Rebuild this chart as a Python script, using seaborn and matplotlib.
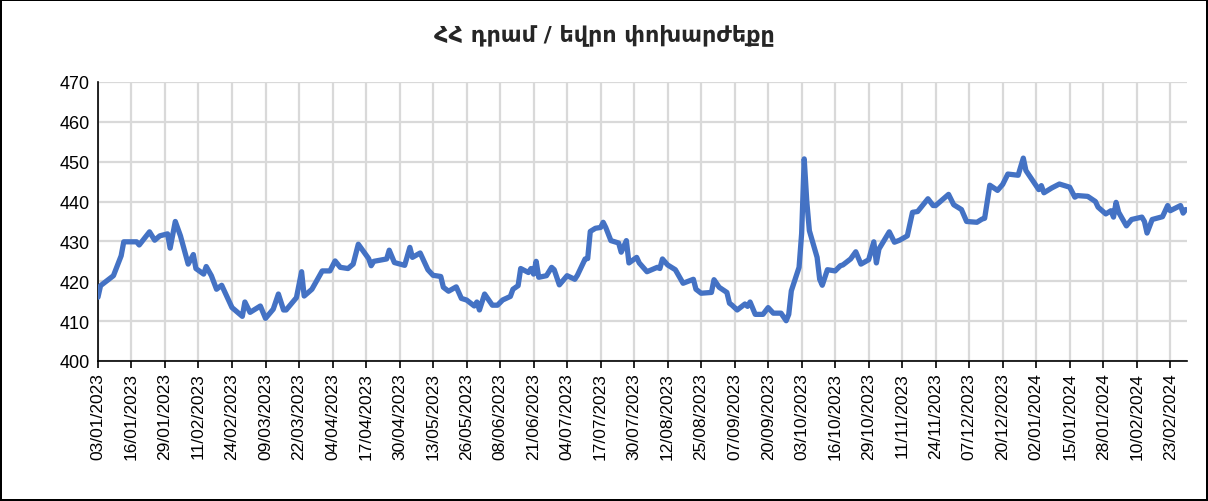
import pandas as pd
import numpy as np
import seaborn as sns
import matplotlib.pyplot as plt
import matplotlib.dates as mdates

#days counted from 03/01/2023
day = [0, 1, 6, 8, 9, 10, 15, 16, 20, 22, 24, 27, 28, 30, 32, 35, 37, 38, 41, 42,
       44, 46, 48, 52, 56, 57, 59, 63, 65, 68, 70, 72, 73, 77, 79, 80, 83, 87, 90, 92,
       94, 97, 99, 101, 105, 106, 107, 112, 113, 115, 119, 121, 122, 125, 128, 130, 133, 134, 136, 139,
       141, 143, 146, 147, 148, 150, 153, 155, 157, 160, 161, 163, 164, 167, 168, 169, 170, 171, 174, 176,
       177, 179, 182, 185, 186, 189, 190, 191, 193, 195, 196, 197, 199, 202, 203, 205, 206, 209, 210, 213,
       217, 218, 219, 221, 224, 227, 231, 232, 234, 238, 239, 241, 244, 245, 246, 248, 251, 252, 253, 255,
       258, 260, 262, 265, 267, 268, 269, 272, 273, 274, 275, 276, 279, 280, 281, 283, 286, 288, 289, 292,
       294, 296, 299, 301, 302, 303, 307, 309, 311, 314, 316, 318, 322, 324, 325, 328, 330, 332, 335, 337,
       341, 343, 344, 346, 349, 351, 353, 357, 359, 360, 365, 366, 367, 370, 373, 377, 379, 380, 384, 387,
       388, 391, 393, 394, 395, 396, 399, 401, 405, 406, 407, 409, 413, 415, 416, 420, 421, 422]
rate = [416.0, 418.9, 421.4, 424.7, 426.4, 429.9, 429.9, 429.1, 432.4, 430.3, 431.4, 431.9, 428.3, 435.0, 431.4, 424.3, 426.7, 423.2, 421.8, 423.7,
        421.4, 418.0, 419.0, 413.4, 411.2, 414.8, 412.2, 413.8, 410.7, 413.0, 416.8, 412.8, 412.8, 415.9, 422.4, 416.3, 418.0, 422.6, 422.6, 425.1,
        423.5, 423.2, 424.3, 429.3, 425.7, 423.9, 425.0, 425.6, 427.8, 424.7, 424.0, 428.5, 426.0, 427.1, 422.9, 421.5, 421.2, 418.5, 417.5, 418.6,
        415.7, 415.3, 413.8, 414.8, 412.8, 416.8, 414.0, 414.0, 415.3, 416.2, 418.0, 418.9, 423.2, 422.2, 423.2, 421.8, 425.0, 421.0, 421.4, 423.5,
        422.9, 419.1, 421.4, 420.5, 421.5, 425.6, 425.7, 432.5, 433.3, 433.5, 434.8, 433.5, 430.2, 429.6, 427.3, 430.2, 424.6, 426.0, 424.6, 422.4,
        423.5, 423.2, 425.6, 424.1, 422.9, 419.5, 420.5, 418.0, 417.0, 417.2, 420.4, 418.5, 417.2, 414.5, 414.0, 412.8, 414.3, 413.7, 414.8, 411.7,
        411.7, 413.4, 412.0, 412.0, 410.1, 411.7, 417.6, 423.5, 432.0, 450.7, 440.0, 432.7, 426.0, 420.5, 419.0, 422.9, 422.6, 423.9, 424.1, 425.6,
        427.4, 424.3, 425.4, 429.9, 424.6, 428.1, 432.4, 429.8, 430.3, 431.4, 437.3, 437.5, 440.7, 439.0, 439.0, 440.7, 441.8, 439.2, 438.0, 435.0,
        434.8, 435.6, 435.8, 444.1, 442.8, 444.3, 446.9, 446.6, 450.9, 447.8, 443.0, 444.0, 442.2, 443.4, 444.4, 443.6, 441.1, 441.5, 441.3, 440.0,
        438.6, 436.9, 437.7, 436.1, 439.8, 437.3, 433.9, 435.5, 436.1, 435.0, 432.1, 435.5, 436.2, 439.0, 437.7, 439.0, 437.1, 438.0]

title = 'ՀՀ դրամ / եվրո փոխարժեքը'
start = pd.Timestamp('2023-01-03')

df = pd.DataFrame({'date': start + pd.to_timedelta(day, unit='D'), 'rate': rate})

sns.set_theme(style='white')
plt.rcParams['font.family'] = ['Liberation Sans', 'DejaVu Sans']

fig = plt.figure(figsize=(12.08, 5.02), dpi=100, linewidth=1.5, edgecolor='black')
ax = fig.add_axes([0.0811, 0.2789, 0.9015, 0.5558])

sns.lineplot(data=df, x='date', y='rate', ax=ax, color='#4472C4', linewidth=3.8, zorder=3,
             solid_joinstyle='round', solid_capstyle='round')

#ticks every 13 days like the excel date axis
xt = pd.date_range('2023-01-03', '2024-02-29', freq='13D')
ax.set_xticks(xt)
ax.xaxis.set_major_formatter(mdates.DateFormatter('%d/%m/%Y'))
ax.set_xlim(start, pd.Timestamp('2024-02-29 12:00'))
ax.set_ylim(400, 470)
ax.set_yticks(np.arange(400, 471, 10))

ax.grid(True, color='#D9D9D9', linewidth=1.6)
ax.set_axisbelow(True)
for s in ['top', 'right']:
    ax.spines[s].set_visible(False)
for s in ['left', 'bottom']:
    ax.spines[s].set_color('black')
    ax.spines[s].set_linewidth(1.2)

ax.tick_params(axis='x', which='major', bottom=True, length=5, width=1.2, color='black',
               labelsize=12.5, labelrotation=90, pad=3, labelcolor='black')
ax.tick_params(axis='y', left=False, length=0, labelsize=13, pad=6, labelcolor='black')
ax.set_xlabel('')
ax.set_ylabel('')

fig.text(0.5, 0.93, title, ha='center', va='center', fontsize=16, fontweight='bold',
         family=['DejaVu Sans'])

fig.savefig('out.png', dpi=100, edgecolor=fig.get_edgecolor())
